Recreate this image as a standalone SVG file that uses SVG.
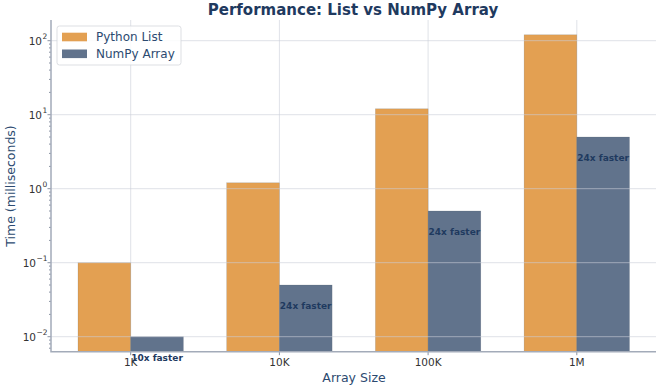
<svg xmlns="http://www.w3.org/2000/svg" width="657" height="386" viewBox="0 0 657 386">
<style>
text{font-family:"DejaVu Sans","Liberation Sans",sans-serif}
path{fill:none}
.title{font-size:15px;font-weight:bold;fill:#1f3a5f}
.axlab{font-size:12.5px;fill:#2c4a70}
.tick{font-size:10.5px;fill:#333}
.sup{font-size:7.5px;fill:#333}
.py{fill:#e3a052}
.np{fill:#61738c}
.bar{stroke:#56606e;stroke-width:0.5;stroke-opacity:0.35}
.grid{stroke:#c9ced8;stroke-width:1;stroke-opacity:0.6}
.spine{stroke:#a3abb9;stroke-width:1.5}
.tk{stroke:#8a93a3;stroke-width:1}
.ann{font-size:9px;font-weight:bold;fill:#1f3a5f;text-anchor:middle}
.leg{font-size:12px;fill:#2c4a70}
</style>
<rect width="657" height="386" fill="#fff"/>
<g id="title"><text class="title" x="353" y="14.5" text-anchor="middle">Performance: List vs NumPy Array</text></g>
<g id="vgrid">
<path class="grid" d="M130.7 20V351.7M279.4 20V351.7M428.1 20V351.7M576.8 20V351.7"/>
</g>
<g id="bars">
<g id="py-1k"><rect class="py bar" x="78" y="262.7" width="52.7" height="89"/></g>
<g id="py-10k"><rect class="py bar" x="226.7" y="182.8" width="52.7" height="168.9"/></g>
<g id="py-100k"><rect class="py bar" x="375.4" y="108.8" width="52.7" height="242.9"/></g>
<g id="py-1m"><rect class="py bar" x="524.1" y="34.8" width="52.7" height="316.9"/></g>
<g id="np-1k"><rect class="np bar" x="130.7" y="336.7" width="52.7" height="15"/></g>
<g id="np-10k"><rect class="np bar" x="279.4" y="285" width="52.7" height="66.7"/></g>
<g id="np-100k"><rect class="np bar" x="428.1" y="211" width="52.7" height="140.7"/></g>
<g id="np-1m"><rect class="np bar" x="576.8" y="137" width="52.7" height="214.7"/></g>
</g>
<g id="hgrid">
<path class="grid" d="M51 40.7H656M51 114.7H656M51 188.7H656M51 262.7H656M51 336.7H656"/>
</g>
<g id="yaxis">
<path class="tk" d="M47.5 40.7H51M47.5 114.7H51M47.5 188.7H51M47.5 262.7H51M47.5 336.7H51"/>
<path class="tk" stroke-width="0.8" d="M49 348.2H51M49 343.9H51M49 340.1H51M49 314.4H51M49 301.4H51M49 292.1H51M49 285H51M49 279.1H51M49 274.2H51M49 269.9H51M49 266.1H51M49 240.4H51M49 227.4H51M49 218.1H51M49 211H51M49 205.1H51M49 200.2H51M49 195.9H51M49 192.1H51M49 166.4H51M49 153.4H51M49 144.1H51M49 137H51M49 131.1H51M49 126.2H51M49 121.9H51M49 118.1H51M49 92.4H51M49 79.4H51M49 70.1H51M49 63H51M49 57.1H51M49 52.2H51M49 47.9H51M49 44.1H51"/>
<text class="tick" x="42" y="44.5" text-anchor="end">10</text><text class="sup" x="42.5" y="39">2</text>
<text class="tick" x="42" y="118.5" text-anchor="end">10</text><text class="sup" x="42.5" y="113">1</text>
<text class="tick" x="42" y="192.5" text-anchor="end">10</text><text class="sup" x="42.5" y="187">0</text>
<text class="tick" x="36" y="266.5" text-anchor="end">10</text><text class="sup" x="36.5" y="261">−1</text>
<text class="tick" x="36" y="340.5" text-anchor="end">10</text><text class="sup" x="36.5" y="335">−2</text>
<text class="axlab" transform="translate(15 186) rotate(-90)" text-anchor="middle">Time (milliseconds)</text>
</g>
<g id="xaxis">
<path class="tk" d="M130.7 351.7V355.2M279.4 351.7V355.2M428.1 351.7V355.2M576.8 351.7V355.2"/>
<text class="tick" x="130.7" y="366" text-anchor="middle">1K</text>
<text class="tick" x="279.4" y="366" text-anchor="middle">10K</text>
<text class="tick" x="428.1" y="366" text-anchor="middle">100K</text>
<text class="tick" x="576.8" y="366" text-anchor="middle">1M</text>
<text class="axlab" x="354" y="382" text-anchor="middle">Array Size</text>
</g>
<g id="spines">
<path class="spine" d="M51 20V351.7H656"/>
</g>
<g id="annotations">
<text class="ann" x="157" y="360.5">10x faster</text>
<text class="ann" x="305.7" y="308.5">24x faster</text>
<text class="ann" x="454.4" y="234.5">24x faster</text>
<text class="ann" x="603.1" y="160.5">24x faster</text>
</g>
<g id="legend">
<rect x="57" y="26" width="124" height="39" rx="2.5" fill="#fff" fill-opacity="0.85" stroke="#d4d7dc" stroke-width="0.8"/>
<rect class="py" x="62" y="32.7" width="25" height="8.6"/>
<text class="leg" x="96" y="41">Python List</text>
<rect class="np" x="62" y="49.5" width="25" height="8.6"/>
<text class="leg" x="96" y="58">NumPy Array</text>
</g>
</svg>
